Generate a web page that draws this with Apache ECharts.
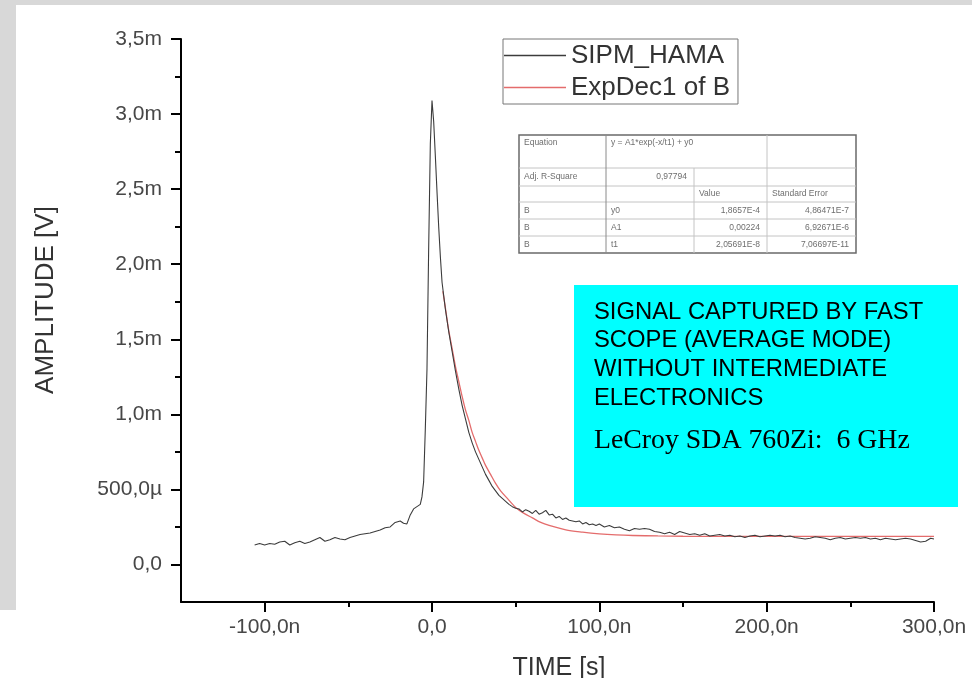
<!DOCTYPE html>
<html>
<head>
<meta charset="utf-8">
<script src="https://cdn.jsdelivr.net/npm/echarts@6/dist/echarts.min.js"></script>
<style>
  html, body { margin: 0; padding: 0; background: #fff; }
  #chart { width: 972px; height: 678px; }
</style>
</head>
<body>
<div id="chart"></div>
<script>
// Averaged SiPM pulse (time in ns, amplitude in mV)
const timeNs = [
  -106, -103, -100, -97, -94, -91, -88, -85, -82, -79, -76, -73, -70, -67, -64, -61, -58, -55,
  -52, -49, -46, -43, -40, -37, -34, -31, -28, -25, -22, -19, -17, -15, -13, -11, -9, -7,
  -6, -5, -4, -3, -2, -1, 0, 1, 2, 3, 4, 5, 6,
  8, 10, 12, 14, 16, 18, 20, 22, 24, 26, 28, 30, 32, 34, 36, 38, 40, 42, 44, 46, 48, 50,
  52, 54, 56, 58, 60, 62, 64, 66, 68, 70, 72, 74, 76, 78, 80, 82, 84, 86, 88, 90, 92, 94, 96, 98, 100,
  103, 106, 109, 112, 115, 118, 121, 124, 127, 130, 133, 136, 139, 142, 145, 148, 151, 154, 157, 160,
  163, 166, 169, 172, 175, 178, 181, 184, 187, 190, 193, 196, 199, 202, 205, 208, 211, 214, 217, 220,
  223, 226, 229, 232, 235, 238, 241, 244, 247, 250, 253, 256, 259, 262, 265, 268, 271, 274, 277, 280,
  283, 286, 289, 292, 295, 298, 300
];
const sipmMv = [
  0.13, 0.14, 0.13, 0.14, 0.135, 0.15, 0.155, 0.13, 0.145, 0.155, 0.14, 0.15, 0.165, 0.18, 0.155, 0.165, 0.18, 0.17,
  0.165, 0.18, 0.19, 0.2, 0.205, 0.21, 0.22, 0.23, 0.245, 0.25, 0.28, 0.29, 0.275, 0.27, 0.33, 0.37, 0.385, 0.4,
  0.45, 0.55, 0.9, 1.3, 2.1, 2.8, 3.09, 2.95, 2.72, 2.48, 2.25, 2.05, 1.88,
  1.7, 1.55, 1.42, 1.29, 1.17, 1.06, 0.97, 0.88, 0.81, 0.75, 0.7, 0.65, 0.6, 0.56, 0.52, 0.49, 0.46, 0.44, 0.42, 0.4, 0.385, 0.375,
  0.37, 0.35, 0.365, 0.355, 0.34, 0.36, 0.335, 0.345, 0.36, 0.33, 0.335, 0.31, 0.32, 0.3, 0.31, 0.295, 0.29, 0.285, 0.29, 0.27, 0.28, 0.265, 0.27, 0.26, 0.27,
  0.25, 0.26, 0.245, 0.25, 0.235, 0.225, 0.24, 0.235, 0.24, 0.235, 0.22, 0.215, 0.205, 0.215, 0.2, 0.22, 0.21, 0.2, 0.205, 0.195,
  0.205, 0.19, 0.195, 0.2, 0.19, 0.195, 0.185, 0.19, 0.18, 0.19, 0.195, 0.185, 0.19, 0.195, 0.19, 0.195, 0.185, 0.19, 0.18, 0.175,
  0.17, 0.175, 0.185, 0.18, 0.175, 0.165, 0.175, 0.18, 0.17, 0.175, 0.18, 0.175, 0.18, 0.17, 0.175, 0.165, 0.175, 0.17, 0.165, 0.17,
  0.175, 0.17, 0.16, 0.15, 0.155, 0.175, 0.17
];

// Exponential decay fit of the falling edge
const fitTimeNs = [6.5, 8, 10, 12, 14, 16, 18, 20, 22, 24, 26, 28, 30, 32, 35, 38, 41, 45, 50, 55,
  60, 65, 70, 80, 90, 100, 110, 120, 135, 150, 175, 200, 250, 300];
const fitMv = [1.82, 1.71, 1.56, 1.44, 1.32, 1.22, 1.12, 1.03, 0.96, 0.88, 0.82, 0.76, 0.71, 0.66, 0.6, 0.54, 0.49, 0.44, 0.38, 0.34,
  0.31, 0.28, 0.26, 0.23, 0.215, 0.204, 0.197, 0.193, 0.19, 0.188, 0.187, 0.187, 0.187, 0.187];

const seriesNames = ['SIPM_HAMA', 'ExpDec1 of B'];
const xAxisTitle = 'TIME [s]';
const yAxisTitle = 'AMPLITUDE [V]';

// Axis ticks and their labels
const xMajorTicks = [-100, 0, 100, 200, 300];
const xTickLabels = ['-100,0n', '0,0', '100,0n', '200,0n', '300,0n'];
const xMinorTicks = [-50, 50, 150, 250];
const yMajorTicks = [0, 0.5, 1, 1.5, 2, 2.5, 3, 3.5];
const yTickLabels = ['0,0', '500,0µ', '1,0m', '1,5m', '2,0m', '2,5m', '3,0m', '3,5m'];
const yMinorTicks = [0.25, 0.75, 1.25, 1.75, 2.25, 2.75, 3.25];

// Fit result table
const fitTable = [
  ['Equation', 'y = A1*exp(-x/t1) + y0', '', ''],
  ['Adj. R-Square', '0,97794', '', ''],
  ['', '', 'Value', 'Standard Error'],
  ['B', 'y0', '1,8657E-4', '4,86471E-7'],
  ['B', 'A1', '0,00224', '6,92671E-6'],
  ['B', 't1', '2,05691E-8', '7,06697E-11']
];

// Annotation box
const noteLines = ['SIGNAL CAPTURED BY FAST', 'SCOPE (AVERAGE MODE)', 'WITHOUT INTERMEDIATE', 'ELECTRONICS'];
const scopeNote = 'LeCroy SDA 760Zi:  6 GHz';

function labelFor(ticks, labels) {
  return function (v) {
    for (let i = 0; i < ticks.length; i++) {
      if (Math.abs(ticks[i] - v) < 1e-9) return labels[i];
    }
    return '';
  };
}

const sans = 'Liberation Sans, Arial, sans-serif';
const blackLine = '#3c3c3c';
const redLine = '#e46c6c';

// Table geometry
const colX = [519, 606, 694, 767, 856];
const rowY = [135, 168, 186, 202, 219, 236, 253];

function buildTable() {
  const els = [];
  els.push({
    type: 'rect', z: 20,
    shape: { x: colX[0], y: rowY[0], width: colX[4] - colX[0], height: rowY[6] - rowY[0] },
    style: { fill: '#fff', stroke: '#6a6a6a', lineWidth: 1.5 }
  });
  for (let r = 1; r < rowY.length - 1; r++) {
    els.push({ type: 'line', z: 21,
      shape: { x1: colX[0], y1: rowY[r], x2: colX[4], y2: rowY[r] },
      style: { stroke: '#c4c4c4', lineWidth: 1 } });
  }
  for (let c = 1; c < colX.length - 1; c++) {
    // the equation cell spans the second and third columns
    const y1 = c === 2 ? rowY[1] : rowY[0];
    els.push({ type: 'line', z: 21,
      shape: { x1: colX[c], y1: y1, x2: colX[c], y2: rowY[6] },
      style: { stroke: c === 1 ? '#8a8a8a' : '#c4c4c4', lineWidth: 1 } });
  }
  fitTable.forEach((row, r) => {
    row.forEach((txt, c) => {
      if (!txt) return;
      const rightAlign = (r === 1 && c === 1) || (r >= 3 && c >= 2);
      const x = rightAlign ? colX[c + 1] - 7 : colX[c] + 5;
      const y = r === 0 ? rowY[0] + 8 : (rowY[r] + rowY[r + 1]) / 2;
      els.push({ type: 'text', z: 22, x: x, y: y,
        style: { text: txt, fill: '#6e6e6e', font: '8.5px ' + sans,
          align: rightAlign ? 'right' : 'left', verticalAlign: 'middle' } });
    });
  });
  return els;
}

function buildNote() {
  const els = [{
    type: 'rect', z: 20,
    shape: { x: 574, y: 285, width: 384, height: 222 },
    style: { fill: '#00ffff' }
  }];
  noteLines.forEach((t, i) => {
    els.push({ type: 'text', z: 21, x: 594, y: 312 + i * 28.7,
      style: { text: t, fill: '#000', font: '23.8px ' + sans, verticalAlign: 'middle' } });
  });
  els.push({ type: 'text', z: 21, x: 594, y: 441,
    style: { text: scopeNote, fill: '#000', font: '27.8px Liberation Serif, Times New Roman, serif', verticalAlign: 'middle' } });
  return els;
}

function buildAxisTitles() {
  return [
    { type: 'text', z: 5, x: 46, y: 300, rotation: Math.PI / 2,
      style: { text: yAxisTitle, fill: '#333', font: '26px ' + sans, align: 'center', verticalAlign: 'middle' } },
    { type: 'text', z: 5, x: 559, y: 668,
      style: { text: xAxisTitle, fill: '#333', font: '25px ' + sans, align: 'center', verticalAlign: 'middle' } }
  ];
}

const chart = echarts.init(document.getElementById('chart'), null, { renderer: 'canvas' });

const axisLineStyle = { color: '#000', width: 2 };
const tickStyle = { color: '#000', width: 2 };
const tickLabelStyle = { fontSize: 21, fontFamily: sans, color: '#474747' };

chart.setOption({
  animation: false,
  backgroundColor: '#fff',
  grid: { left: 181, right: 38, top: 39, bottom: 76, outerBoundsMode: 'none', containLabel: false },
  legend: {
    orient: 'vertical',
    left: 503, top: 39,
    data: seriesNames,
    icon: 'rect',
    itemWidth: 62, itemHeight: 1.3, itemGap: 5,
    padding: [3, 8, 3, 1],
    borderColor: '#777', borderWidth: 1,
    backgroundColor: '#fff',
    textStyle: { fontSize: 26, fontFamily: sans, color: '#333', lineHeight: 27 }
  },
  xAxis: [{
    type: 'value', min: -150, max: 300,
    position: 'bottom',
    axisLine: { show: true, onZero: false, lineStyle: axisLineStyle },
    axisTick: { show: true, customValues: xMajorTicks, length: 10, lineStyle: tickStyle },
    axisLabel: Object.assign({ customValues: xMajorTicks, formatter: labelFor(xMajorTicks, xTickLabels), margin: 15 }, tickLabelStyle),
    splitLine: { show: false }
  }, {
    type: 'value', min: -150, max: 300,
    position: 'bottom', offset: 0,
    axisLine: { show: false, onZero: false },
    axisTick: { show: true, customValues: xMinorTicks, length: 5, lineStyle: tickStyle },
    axisLabel: { show: false },
    splitLine: { show: false }
  }],
  yAxis: [{
    type: 'value', min: -0.25, max: 3.5,
    position: 'left',
    axisLine: { show: true, onZero: false, lineStyle: axisLineStyle },
    axisTick: { show: true, customValues: yMajorTicks, length: 10, lineStyle: tickStyle },
    axisLabel: Object.assign({ customValues: yMajorTicks, formatter: labelFor(yMajorTicks, yTickLabels), margin: 19 }, tickLabelStyle),
    splitLine: { show: false }
  }, {
    type: 'value', min: -0.25, max: 3.5,
    position: 'left', offset: 0,
    axisLine: { show: false, onZero: false },
    axisTick: { show: true, customValues: yMinorTicks, length: 6, lineStyle: tickStyle },
    axisLabel: { show: false },
    splitLine: { show: false }
  }],
  series: [{
    name: seriesNames[1],
    type: 'line',
    xAxisIndex: 0, yAxisIndex: 0,
    data: fitTimeNs.map((t, i) => [t, fitMv[i]]),
    symbol: 'none', smooth: 0.3,
    lineStyle: { color: redLine, width: 1.3 },
    itemStyle: { color: redLine },
    z: 3
  }, {
    name: seriesNames[0],
    type: 'line',
    xAxisIndex: 0, yAxisIndex: 0,
    data: timeNs.map((t, i) => [t, sipmMv[i]]),
    symbol: 'none',
    lineStyle: { color: blackLine, width: 1.1 },
    itemStyle: { color: blackLine },
    z: 4
  }],
  graphic: { elements: [
    { type: 'rect', z: -10, silent: true, shape: { x: 0, y: 0, width: 972, height: 5 }, style: { fill: '#d8d8d8' } },
    { type: 'rect', z: -10, silent: true, shape: { x: 0, y: 0, width: 16, height: 610 }, style: { fill: '#d8d8d8' } },
    ...buildAxisTitles(),
    ...buildTable(),
    ...buildNote()
  ] }
});
</script>
</body>
</html>
